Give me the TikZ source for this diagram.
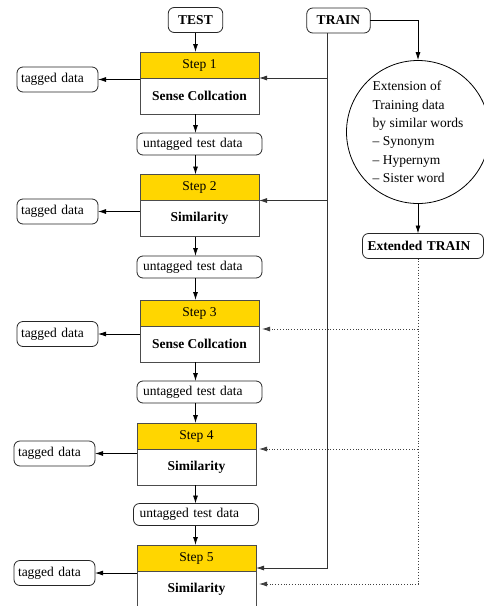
\documentclass[tikz,border=0pt]{standalone}
\usepackage{fontspec}
\setmainfont{Liberation Serif}
\usetikzlibrary{arrows.meta,positioning}
\definecolor{stepyellow}{RGB}{255,214,0}
\newcommand{\diagfont}{\fontsize{13.5}{16}\selectfont}
\tikzset{
  DataStyle/.style = { draw=black!85, rounded corners=6pt, fill=white,
                       line width=0.8pt, inner ysep=0pt, outer sep=0pt,
                       minimum height=25pt, font=\diagfont },
  TagStyle/.style = { DataStyle, inner xsep=4pt, text width=73pt, align=left },
  UntagStyle/.style = { DataStyle, inner xsep=6pt, text width=113pt,
                        align=left, minimum height=22pt },
  StepStyle/.style = { draw=black!70, fill=stepyellow, line width=1pt,
                       minimum width=119pt, minimum height=26pt,
                       outer sep=0pt, font=\diagfont },
  TaskStyle/.style = { draw=black!70, fill=white, line width=1pt,
                       minimum width=119pt, minimum height=36pt,
                       outer sep=0pt, font=\diagfont\bfseries },
  EdgeStyle/.style = { -{Latex[length=8pt,width=5pt]}, line width=0.8pt },
  DotStyle/.style = { EdgeStyle, dotted, black!75, shorten >=3pt }
}

\begin{document}
\begin{tikzpicture}[x=1pt,y=-1pt]
  \useasboundingbox (0,0) rectangle (484,606);
  % inputs
  \node[DataStyle, inner xsep=10pt, font=\diagfont\bfseries](TEST) at (195.5,20) {TEST};
  \node[DataStyle, inner xsep=10pt, font=\diagfont\bfseries](TRAIN) at (338.5,20.5) {TRAIN};
  \node[circle, draw, line width=0.8pt, minimum size=143pt, inner sep=0pt,
        align=left, font=\fontsize{13.5}{18.4}\selectfont](EXT) at (418,132)
       {Extension of\\Training data\\by similar words\\\textendash{} Synonym\\
        \textendash{} Hypernym\\\textendash{} Sister word};
  \node[DataStyle, inner xsep=5pt, text width=111pt, align=left,
        font=\diagfont\bfseries](ET) at (423,246) {Extended TRAIN};
  \coordinate (BUS) at (327,0);

  % steps
  \node[StepStyle](STEP1) at (199.5,65) {Step 1};
  \node[TaskStyle, below=0pt of STEP1](TASK1) {Sense Collcation};
  \node[StepStyle](STEP2) at (199.5,187.5) {Step 2};
  \node[TaskStyle, below=0pt of STEP2](TASK2) {Similarity};
  \node[StepStyle](STEP3) at (199.5,313) {Step 3};
  \node[TaskStyle, below=0pt of STEP3](TASK3) {Sense Collcation};
  \node[StepStyle](STEP4) at (196.5,436) {Step 4};
  \node[TaskStyle, below=0pt of STEP4](TASK4) {Similarity};
  \node[StepStyle](STEP5) at (196.5,558) {Step 5};
  \node[TaskStyle, below=0pt of STEP5](TASK5) {Similarity};

  % data between steps
  \node[UntagStyle](UNT1) at (199.5,144) {untagged test data};
  \node[UntagStyle](UNT2) at (199.5,267) {untagged test data};
  \node[UntagStyle](UNT3) at (199.5,392) {untagged test data};
  \node[UntagStyle](UNT4) at (196,514.5) {untagged test data};
  \node[TagStyle](TAG1) at (57.5,79.5) {tagged data};
  \node[TagStyle](TAG2) at (57.5,211.5) {tagged data};
  \node[TagStyle](TAG3) at (57.5,334) {tagged data};
  \node[TagStyle](TAG4) at (54.5,453.5) {tagged data};
  \node[TagStyle](TAG5) at (54.5,573) {tagged data};

  % test flow
  \draw[EdgeStyle] (TEST) -- (TEST |- STEP1.north);
  \draw[EdgeStyle] (TEST |- TASK1.south) -- (TEST |- UNT1.north);
  \draw[EdgeStyle] (TEST |- UNT1.south) -- (TEST |- STEP2.north);
  \draw[EdgeStyle] (TEST |- TASK2.south) -- (TEST |- UNT2.north);
  \draw[EdgeStyle] (TEST |- UNT2.south) -- (TEST |- STEP3.north);
  \draw[EdgeStyle] (TEST |- TASK3.south) -- (TEST |- UNT3.north);
  \draw[EdgeStyle] (TEST |- UNT3.south) -- (TEST |- STEP4.north);
  \draw[EdgeStyle] (TEST |- TASK4.south) -- (TEST |- UNT4.north);
  \draw[EdgeStyle] (TEST |- UNT4.south) -- (TEST |- STEP5.north);

  \draw[EdgeStyle] (TASK1.west |- TAG1) -- (TAG1.east);
  \draw[EdgeStyle] (TASK2.west |- TAG2) -- (TAG2.east);
  \draw[EdgeStyle] (TASK3.west |- TAG3) -- (TAG3.east);
  \draw[EdgeStyle] (TASK4.west |- TAG4) -- (TAG4.east);
  \draw[EdgeStyle] (TASK5.west |- TAG5) -- (TAG5.east);

  % training data
  \draw[EdgeStyle] (TRAIN.east) -| (EXT.north);
  \draw[EdgeStyle] (EXT.south) -- (EXT.south |- ET.north);
  \draw[EdgeStyle, black!80] (BUS |- TRAIN.south) |- ([yshift=3pt]STEP5.south east);
  \draw[EdgeStyle, black!80] (BUS |- STEP1.south east) -- (STEP1.south east);
  \draw[EdgeStyle, black!80] (BUS |- STEP2.south east) -- (STEP2.south east);

  \draw[DotStyle] (EXT.south |- ET.south) |- ([yshift=-13pt]TASK5.north east);
  \draw[DotStyle] ([yshift=-3pt]EXT.south |- STEP3.south east) -- ([yshift=-3pt]STEP3.south east);
  \draw[DotStyle] (EXT.south |- STEP4.south east) -- (STEP4.south east);
\end{tikzpicture}
\end{document}
